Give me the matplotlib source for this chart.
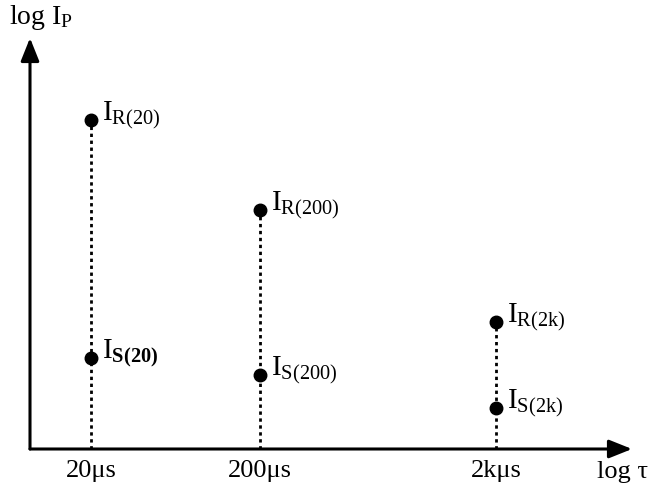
import matplotlib
matplotlib.use("Agg")
import matplotlib.pyplot as plt

plt.rcParams['font.family'] = ['Liberation Serif', 'DejaVu Serif']
plt.rcParams['mathtext.fontset'] = 'custom'
plt.rcParams['mathtext.rm'] = 'Liberation Serif'
plt.rcParams['mathtext.it'] = 'Liberation Serif:italic'
plt.rcParams['mathtext.bf'] = 'Liberation Serif:bold'

# schematic positions (arbitrary log units)
tau_pos = [61, 230, 466]
tau_labels = ["20\u03bcs", "200\u03bcs", "2k\u03bcs"]
ip_R = [329, 239, 127]
ip_S = [91, 74, 41]
R_labels = [r"$\mathrm{I}_{\mathrm{R(20)}}$", r"$\mathrm{I}_{\mathrm{R(200)}}$", r"$\mathrm{I}_{\mathrm{R(2k)}}$"]
S_labels = [r"$\mathrm{I}_{\mathbf{S(20)}}$", r"$\mathrm{I}_{\mathrm{S(200)}}$", r"$\mathrm{I}_{\mathrm{S(2k)}}$"]

fig = plt.figure(figsize=(6.51, 4.90), dpi=100)
ax = fig.add_axes([30 / 651, 41 / 490, 602 / 651, 411 / 490])
ax.set_xlim(0, 602)
ax.set_ylim(0, 411)
for s in ax.spines.values():
    s.set_visible(False)
ax.set_yticks([])

# axes with arrow heads
arrow = dict(arrowstyle='-|>,head_length=0.7,head_width=0.28', lw=2.2, color='k',
             mutation_scale=20, shrinkA=0, shrinkB=0)
ax.annotate('', xy=(1, 0), xytext=(0, 0), xycoords='axes fraction', arrowprops=arrow,
            annotation_clip=False)
ax.annotate('', xy=(0, 1), xytext=(0, 0), xycoords='axes fraction', arrowprops=arrow,
            annotation_clip=False)

# dotted drop lines and points
for x, r, s in zip(tau_pos, ip_R, ip_S):
    ax.plot([x, x], [0, r], color='k', lw=2.0, ls=(0, (1.2, 1.3)), zorder=2)
ax.plot(tau_pos, ip_R, 'o', color='k', ms=9, zorder=3, clip_on=False)
ax.plot(tau_pos, ip_S, 'o', color='k', ms=9, zorder=3, clip_on=False)

for x, y, lab in zip(tau_pos, ip_R, R_labels):
    ax.annotate(lab, (x, y), xytext=(8, 0), textcoords='offset points',
                fontsize=21, va='baseline', ha='left')
for x, y, lab in zip(tau_pos, ip_S, S_labels):
    ax.annotate(lab, (x, y), xytext=(8, 0), textcoords='offset points',
                fontsize=21, va='baseline', ha='left')

ax.set_xticks(tau_pos, tau_labels, fontsize=19)
ax.tick_params(axis='x', length=0, pad=8)

fig.text(597 / 651, 1 - 472 / 490, "log \u03c4", fontsize=19, va='center', ha='left')
fig.text(9 / 651, 1 - 18 / 490, r"log $\mathrm{I}_{\mathrm{P}}$", fontsize=20, va='center', ha='left')

fig.savefig("out.png", dpi=100)
